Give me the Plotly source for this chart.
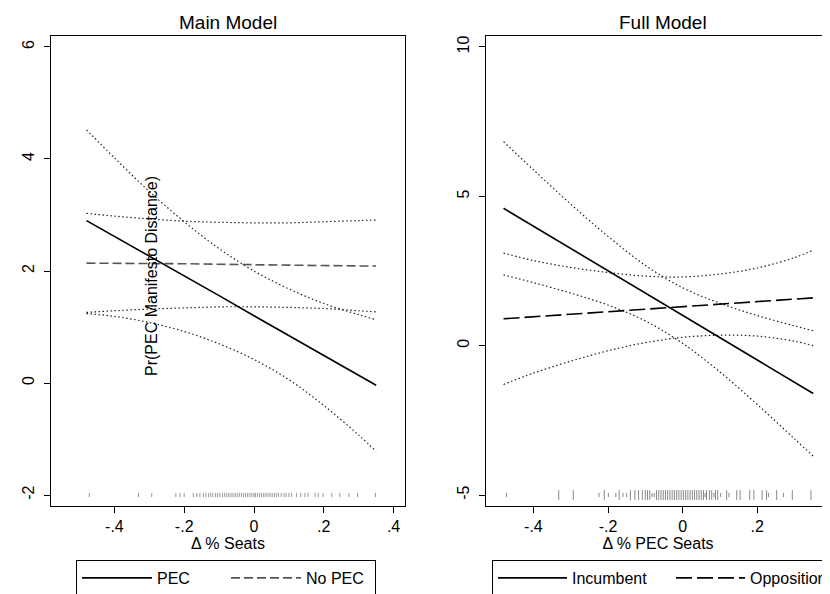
import plotly.graph_objects as go

# ---------------- data ----------------
x_grid = [-0.48, -0.4, -0.3, -0.2, -0.1, 0.0, 0.1, 0.2, 0.3, 0.35]

# Main model
pec_est = [2.90, 2.62, 2.26, 1.91, 1.56, 1.20, 0.85, 0.50, 0.14, -0.04]
pec_hi = [4.52, 4.02, 3.42, 2.88, 2.40, 2.00, 1.68, 1.42, 1.22, 1.13]
pec_lo = [1.24, 1.19, 1.08, 0.92, 0.70, 0.42, 0.06, -0.40, -0.93, -1.22]
nopec_est = [2.14, 2.14, 2.13, 2.13, 2.12, 2.11, 2.11, 2.10, 2.09, 2.09]
nopec_hi = [3.03, 2.98, 2.93, 2.89, 2.87, 2.86, 2.86, 2.88, 2.90, 2.91]
nopec_lo = [1.26, 1.29, 1.32, 1.34, 1.36, 1.36, 1.35, 1.33, 1.29, 1.27]

# Full model
inc_est = [4.60, 4.00, 3.25, 2.51, 1.76, 1.01, 0.27, -0.48, -1.23, -1.60]
inc_hi = [6.83, 5.89, 4.74, 3.66, 2.69, 1.94, 1.42, 1.01, 0.66, 0.50]
inc_lo = [2.37, 2.11, 1.76, 1.36, 0.83, 0.08, -0.88, -1.97, -3.12, -3.70]
opp_est = [0.90, 0.97, 1.05, 1.14, 1.22, 1.30, 1.39, 1.47, 1.56, 1.60]
opp_hi = [3.10, 2.85, 2.62, 2.45, 2.33, 2.30, 2.40, 2.60, 2.95, 3.20]
opp_lo = [-1.30, -0.92, -0.52, -0.17, 0.10, 0.28, 0.35, 0.32, 0.15, 0.00]

# Rug (observed values of the moderator)
rug_main = [-0.472, -0.331, -0.293, -0.224, -0.212, -0.200, -0.174, -0.164, -0.155,
            -0.145, -0.138, -0.130, -0.124, -0.118, -0.110, -0.104, -0.098, -0.090,
            -0.084, -0.078, -0.072, -0.066, -0.060, -0.054, -0.048, -0.042, -0.036,
            -0.030, -0.024, -0.018, -0.012, -0.006, 0.000, 0.004, 0.010, 0.016, 0.022,
            0.028, 0.034, 0.040, 0.046, 0.052, 0.058, 0.064, 0.070, 0.078, 0.086,
            0.092, 0.100, 0.108, 0.122, 0.134, 0.146, 0.155, 0.175, 0.184, 0.198,
            0.223, 0.246, 0.272, 0.297, 0.348]
rug_full_tall = [-0.332, -0.293, -0.210, -0.170, -0.140, -0.128, -0.118, -0.108, -0.100,
                 -0.094, -0.088, -0.070, -0.064, -0.058, -0.052, -0.046, -0.040, -0.034,
                 -0.028, -0.022, -0.016, -0.010, -0.004, 0.002, 0.008, 0.014, 0.020,
                 0.026, 0.032, 0.038, 0.044, 0.050, 0.056, 0.064, 0.072, 0.078, 0.088,
                 0.094, 0.118, 0.145, 0.154, 0.180, 0.191, 0.213, 0.225, 0.252, 0.294,
                 0.344]
rug_full_short = [-0.472, -0.224, -0.199, -0.179, -0.160, -0.150, -0.082, -0.076, 0.060,
                  0.084, 0.102, 0.124, 0.230, 0.270]

x_ticks = [-0.4, -0.2, 0, 0.2, 0.4]
x_ticktext = ["-.4", "-.2", "0", ".2", ".4"]
y_ticks_main = [-2, 0, 2, 4, 6]
y_ticks_full = [-5, 0, 5, 10]

titles = ["Main Model", "Full Model"]
xtitles = ["Δ % Seats", "Δ % PEC Seats"]
ytitle = "Pr(PEC Manifesto Distance)"

# ---------------- figure ----------------
FONT = "Liberation Sans, Arial, sans-serif"
fig = go.Figure()

dot = dict(color="#222222", width=1.2, dash="1.5px,2.5px")


def ci(x, y, xa, ya):
    fig.add_trace(go.Scatter(x=x, y=y, mode="lines", line=dict(dot, shape="spline"),
                             xaxis=xa, yaxis=ya, showlegend=False, hoverinfo="skip"))


# Main model
ci(x_grid, pec_hi, "x", "y")
ci(x_grid, pec_lo, "x", "y")
ci(x_grid, nopec_hi, "x", "y")
ci(x_grid, nopec_lo, "x", "y")
fig.add_trace(go.Scatter(x=x_grid, y=pec_est, mode="lines", name="PEC",
                         line=dict(color="black", width=1.6), xaxis="x", yaxis="y",
                         legend="legend"))
fig.add_trace(go.Scatter(x=x_grid, y=nopec_est, mode="lines", name="No PEC",
                         line=dict(color="#555555", width=1.6, dash="9px,4px"),
                         xaxis="x", yaxis="y", legend="legend"))
fig.add_trace(go.Scatter(x=rug_main, y=[-2] * len(rug_main), mode="markers",
                         marker=dict(symbol="line-ns", size=3,
                                     line=dict(color="#999999", width=1)),
                         xaxis="x", yaxis="y", showlegend=False, hoverinfo="skip"))

# Full model
ci(x_grid, inc_hi, "x2", "y2")
ci(x_grid, inc_lo, "x2", "y2")
ci(x_grid, opp_hi, "x2", "y2")
ci(x_grid, opp_lo, "x2", "y2")
fig.add_trace(go.Scatter(x=x_grid, y=inc_est, mode="lines", name="Incumbent",
                         line=dict(color="black", width=1.6), xaxis="x2", yaxis="y2",
                         legend="legend2"))
fig.add_trace(go.Scatter(x=x_grid, y=opp_est, mode="lines", name="Opposition",
                         line=dict(color="black", width=1.6, dash="16px,5px"),
                         xaxis="x2", yaxis="y2", legend="legend2"))
fig.add_trace(go.Scatter(x=rug_full_tall, y=[-5] * len(rug_full_tall), mode="markers",
                         marker=dict(symbol="line-ns", size=7,
                                     line=dict(color="#888888", width=1)),
                         xaxis="x2", yaxis="y2", showlegend=False, hoverinfo="skip"))
fig.add_trace(go.Scatter(x=rug_full_short, y=[-5] * len(rug_full_short), mode="markers",
                         marker=dict(symbol="line-ns", size=3,
                                     line=dict(color="#888888", width=1)),
                         xaxis="x2", yaxis="y2", showlegend=False, hoverinfo="skip"))

# The page body has an 8px margin, so the figure is drawn 8px in from the window corner.
OFF = 8
W, H = 830 - OFF, 594 - OFF


def px(v):
    return (v - OFF) / W


def py(v):
    return 1 - (v - OFF) / H


ydom = [py(506), py(36)]

axis_common = dict(showline=True, linecolor="black", linewidth=1, ticks="outside",
                   ticklen=6, tickcolor="black", showgrid=False, zeroline=False,
                   automargin=False,
                   tickfont=dict(family=FONT, size=16, color="black"))

fig.update_layout(
    width=W, height=H, autosize=False,
    margin=dict(l=0, r=0, t=0, b=0, autoexpand=False),
    paper_bgcolor="white", plot_bgcolor="white",
    font=dict(family=FONT, size=16, color="black"),
    xaxis=dict(axis_common, domain=[px(51), px(405)], range=[-0.5817, 0.4327],
               tickvals=x_ticks, ticktext=x_ticktext, mirror=True, anchor="y",
               title=dict(text=xtitles[0], standoff=0,
                          font=dict(family=FONT, size=16))),
    yaxis=dict(axis_common, domain=ydom, range=[-2.196, 6.196], tickvals=y_ticks_main,
               ticktext=[str(v) for v in y_ticks_main], tickangle=-90, mirror=True,
               anchor="x", ticklabelstandoff=4),
    xaxis2=dict(axis_common, domain=[px(486), 1.0], range=[-0.527, 0.395],
                tickvals=x_ticks, ticktext=x_ticktext, mirror=True, anchor="y2",
                title=dict(text=xtitles[1], standoff=0,
                           font=dict(family=FONT, size=16))),
    yaxis2=dict(axis_common, domain=ydom, range=[-5.368, 10.368], tickvals=y_ticks_full,
                ticktext=[str(v) for v in y_ticks_full], tickangle=-90, mirror=False,
                anchor="x2", ticklabelstandoff=4),
    legend=dict(orientation="h", x=px(76), xanchor="left", y=py(560), yanchor="top",
                bordercolor="black", borderwidth=1, bgcolor="white",
                font=dict(family=FONT, size=16), itemwidth=70,
                entrywidth=64, entrywidthmode="pixels"),
    legend2=dict(orientation="h", x=px(492), xanchor="left", y=py(560), yanchor="top",
                 bordercolor="black", borderwidth=1, bgcolor="white",
                 font=dict(family=FONT, size=16), itemwidth=69,
                 entrywidth=94, entrywidthmode="pixels"),
    annotations=[
        dict(text=titles[0], x=px(228), y=py(22), xref="paper", yref="paper",
             xanchor="center", yanchor="middle", showarrow=False,
             font=dict(family=FONT, size=19)),
        dict(text=titles[1], x=px(663), y=py(22), xref="paper", yref="paper",
             xanchor="center", yanchor="middle", showarrow=False,
             font=dict(family=FONT, size=19)),
        dict(text=ytitle, x=px(152), y=py(276), xref="paper", yref="paper",
             xanchor="center", yanchor="middle", showarrow=False, textangle=-90,
             font=dict(family=FONT, size=16)),
    ],
)

fig.write_html("out.html")
